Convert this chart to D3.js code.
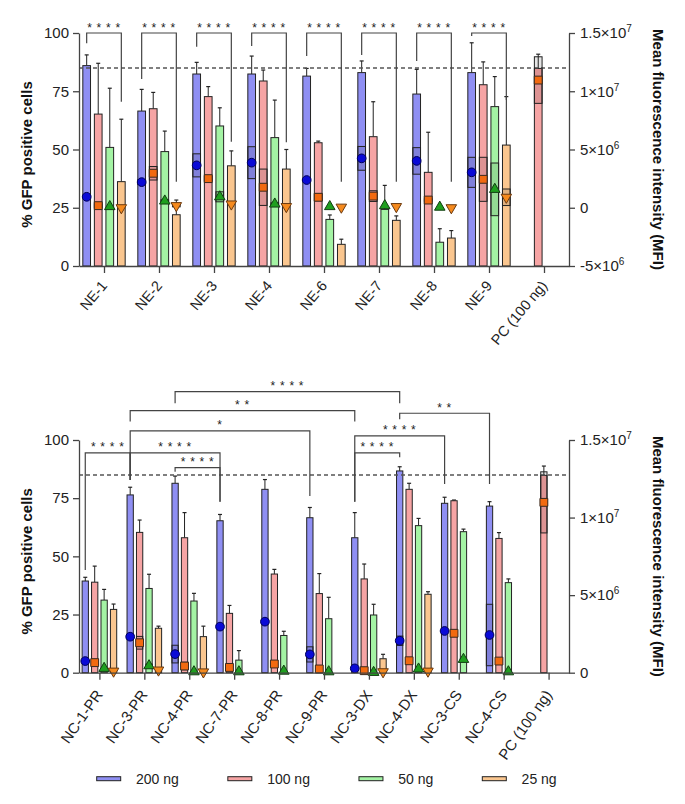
<!DOCTYPE html>
<html><head><meta charset="utf-8">
<script src="https://cdn.jsdelivr.net/npm/d3@7"></script>
<style>body{margin:0;background:#fff}svg{display:block;font-family:Arial,"Liberation Sans",sans-serif}</style>
</head><body><svg id="c" width="685" height="804"></svg>
<script>
// ---------- DATA ----------
const doses = ["200 ng", "100 ng", "50 ng", "25 ng"];

const topCats = ["NE-1","NE-2","NE-3","NE-4","NE-6","NE-7","NE-8","NE-9","PC (100 ng)"];
const topGfp200 = [86, 66.5, 82.4, 82.4, 81.5, 83, 73.8, 83, null];
const topGfp200Sd = [4.6, 9.3, 5, 7.7, 3.3, 5, 10.6, 12.8, null];
const topGfp100 = [65.2, 67.5, 72.7, 79.4, 52.9, 55.5, 40.2, 77.8, 84.8];
const topGfp100Sd = [21.8, 7, 4.3, 4.7, 0.7, 15, 17.2, 9.8, 6.1];
const topGfp50 = [50.9, 49.1, 60.1, 55.1, 20, 24.3, 10.2, 68.4, null];
const topGfp50Sd = [25.4, 8.8, 7.8, 16.1, 1.9, 10.3, 5.8, 12.9, null];
const topGfp25 = [36.2, 22, 43, 41.6, 9.3, 19.6, 12, 51.9, null];
const topGfp25Sd = [26.8, 6.3, 6.4, 8.4, 2.2, 1.9, 3.2, 20.8, null];
// MFI in units of 1e6
const topMfi200 = [0.94, 2.2, 3.64, 3.87, 2.38, 4.24, 4.02, 3.04, null];
const topMfi200Sd = [0.1, 0.2, 0.99, 1.37, 0.1, 1.02, 1.14, 1.29, null];
const topMfi100 = [0.18, 2.96, 2.5, 1.76, 0.9, 1.0, 0.66, 2.44, 10.96];
const topMfi100Sd = [0.15, 0.58, 0.2, 1.56, 0.3, 0.46, 0.1, 1.89, 2.0];
const topMfi50 = [0.1, 0.58, 0.94, 0.32, 0.1, 0.18, 0.05, 1.58, null];
const topMfi50Sd = [0, 0.1, 0.43, 0.1, 0, 0, 0, 2.26, null];
const topMfi25 = [0, 0.18, 0.32, 0.1, 0.05, 0.1, 0, 0.9, null];
const topMfi25Sd = [0, 0.1, 0, 0, 0, 0, 0, 0.71, null];
const topRightTicks = [-5, 0, 5, 10, 15];
const topRightLabels = [["-5","6"],["0",""],["5","6"],["1","7"],["1.5","7"]];
// brackets: [fromCat, fromDose, toCat, toDose, top %, left leg end %, right leg end %, label]
const topBrackets = [
  ["NE-1",0,"NE-1",3,100,95.6,70.5,"* * * *"],
  ["NE-2",0,"NE-2",3,100,80.3,36.2,"* * * *"],
  ["NE-3",0,"NE-3",3,100,94.1,53.3,"* * * *"],
  ["NE-4",0,"NE-4",3,100,94.4,53.1,"* * * *"],
  ["NE-6",0,"NE-6",3,100,90.1,36.2,"* * * *"],
  ["NE-7",0,"NE-7",3,100,90.6,36.2,"* * * *"],
  ["NE-8",0,"NE-8",3,100,88,36.2,"* * * *"],
  ["NE-9",0,"NE-9",3,100,98.7,71.2,"* * * *"]
];

const botCats = ["NC-1-PR","NC-3-PR","NC-4-PR","NC-7-PR","NC-8-PR","NC-9-PR","NC-3-DX","NC-4-DX","NC-3-CS","NC-4-CS","PC (100 ng)"];
const botGfp200 = [39.4, 76.4, 81.4, 65.3, 78.8, 66.6, 58, 86.7, 72.8, 71.6, null];
const botGfp200Sd = [1.6, 3.3, 3.1, 2.7, 4.2, 4.4, 10.8, 1.8, 2.6, 1.9, null];
const botGfp100 = [38.9, 60.3, 58, 25.5, 42.4, 34, 40.3, 78.8, 73.9, 57.7, 84.8];
const botGfp100Sd = [6.9, 5.3, 10.8, 3.4, 2, 8.6, 6.4, 2.6, 0.3, 2.5, 4];
const botGfp50 = [31.2, 36.2, 30.8, 5.4, 16, 23.2, 24.8, 63.2, 60.6, 38.7, null];
const botGfp50Sd = [4.6, 6.1, 3.3, 4.1, 1.8, 9.2, 4.6, 3.1, 1.1, 1.6, null];
const botGfp25 = [27.2, 19.1, 15.5, null, null, null, 6, 33.7, null, null, null];
const botGfp25Sd = [2.3, 0.9, 4.5, null, null, null, 1.9, 1.1, null, null, null];
const botMfi200 = [0.75, 2.32, 1.2, 2.97, 3.29, 1.18, 0.28, 2.06, 2.69, 2.43, null];
const botMfi200Sd = [0.05, 0.15, 0.57, 0.1, 0.15, 0.49, 0.05, 0.3, 0.05, 1.98, null];
const botMfi100 = [0.65, 1.93, 0.43, 0.34, 0.56, 0.24, 0.13, 0.77, 2.54, 0.75, 10.98];
const botMfi100Sd = [0.1, 0.41, 0.24, 0.1, 0.1, 0.05, 0.05, 0.1, 0.1, 0.05, 1.97];
const botMfi50 = [0.28, 0.45, 0.06, 0.06, 0.1, 0.06, 0.02, 0.24, 0.86, 0.06, null];
const botMfi50Sd = [0, 0.1, 0, 0, 0, 0, 0, 0, 0.05, 0, null];
const botMfi25 = [0.1, 0.17, 0.05, null, null, null, 0.06, 0.1, null, null, null];
const botMfi25Sd = [0, 0, 0, null, null, null, 0, 0, null, null, null];
const botRightTicks = [0, 5, 10, 15];
const botRightLabels = [["0",""],["5","6"],["1","7"],["1.5","7"]];
const botBrackets = [
  ["NC-1-PR",0,"NC-3-PR",0,94.5,44.1,82.8,"* * * *"],
  ["NC-3-PR",0,"NC-7-PR",0,94.5,82.8,73.5,"* * * *"],
  ["NC-4-PR",0,"NC-7-PR",0,88.1,86.4,73.5,"* * * *"],
  ["NC-3-PR",0,"NC-9-PR",0,103.9,82.8,75.9,"*"],
  ["NC-3-PR",0,"NC-3-DX",0,112.6,107.9,107.9,"* *"],
  ["NC-4-PR",0,"NC-4-DX",0,120.8,115.8,115.8,"* * * *"],
  ["NC-3-DX",0,"NC-4-DX",0,94.5,73.5,92.6,"* * * *"],
  ["NC-3-DX",0,"NC-3-CS",0,101.8,73.5,81.1,"* * * *"],
  ["NC-4-DX",0,"NC-4-CS",0,111.5,108.9,81.1,"* *"]
];
const refLine = 85;
const yTicks = [0, 25, 50, 75, 100];

// ---------- STYLE ----------
const barFill = ["#8f8ff3", "#f6a4a4", "#a4f3a4", "#fac68f"];
const mkFill = ["#0a0ad6", "#f26a10", "#1f9f1f", "#f58a1e"];
const mkStroke = ["#00005a", "#3a2a20", "#123d12", "#6b3a10"];
const AX = "#444";
const svg = d3.select("#c");

const triDown = {draw(ctx, size){ const s=Math.sqrt(size/(Math.sqrt(3)/4)); const th=s*Math.sqrt(3)/2; ctx.moveTo(-s/2,-th/3); ctx.lineTo(s/2,-th/3); ctx.lineTo(0,2*th/3); ctx.closePath(); }};
const symTypes = [d3.symbolCircle, d3.symbolSquare, d3.symbolTriangle, triDown];
const symSizes = [60, 62, 48, 48];

function panel(o){
  const g = svg.append("g");
  const x = d3.scalePoint().domain(o.cats).range([79,569]).padding(0.4545);
  const step = x.step();
  const bStep = step*0.21, bW = step*0.14;
  const yL = d3.scaleLinear().domain([0,100]).range([o.yb,o.yt]);
  const yR = d3.scaleLinear().domain(o.mfiDom).range([o.yb,o.yt]);
  const bx = (c,k)=> x(c) + (k-1.5)*bStep;

  // bars
  o.gfp.forEach((arr,k)=>{
    arr.forEach((v,i)=>{
      if(v==null) return;
      const c=o.cats[i], cx=bx(c,k);
      const sd=o.gfpSd[k][i];
      if(sd){
        g.append("line").attr("x1",cx).attr("x2",cx).attr("y1",yL(v)).attr("y2",yL(v+sd)).attr("stroke","#222").attr("stroke-width",1);
        g.append("line").attr("x1",cx-2).attr("x2",cx+2).attr("y1",yL(v+sd)).attr("y2",yL(v+sd)).attr("stroke","#222").attr("stroke-width",1.2);
      }
      g.append("rect").attr("x",cx-bW/2).attr("y",yL(v)).attr("width",bW).attr("height",yL(0)-yL(v))
        .attr("fill",barFill[k]).attr("stroke","#222").attr("stroke-width",1);
    });
  });
  // dashed reference
  g.append("line").attr("x1",79).attr("x2",569).attr("y1",yL(refLine)).attr("y2",yL(refLine))
    .attr("stroke","#555").attr("stroke-width",1.5).attr("stroke-dasharray","4,3");
  // markers
  o.mfi.forEach((arr,k)=>{
    arr.forEach((v,i)=>{
      if(v==null) return;
      const c=o.cats[i], cx=bx(c,k);
      const sd=o.mfiSd[k][i];
      if(sd){
        const y1=yR(v+sd), y2=yR(v-sd);
        g.append("rect").attr("x",cx-bW/2).attr("y",y1).attr("width",bW).attr("height",y2-y1)
          .attr("fill","rgba(0,0,0,0.1)").attr("stroke","#222").attr("stroke-width",1);
      }
      g.append("path").attr("d",d3.symbol().type(symTypes[k]).size(symSizes[k])())
        .attr("transform",`translate(${cx},${yR(v)})`).attr("fill",mkFill[k]).attr("stroke",mkStroke[k]).attr("stroke-width",1);
    });
  });
  // axes
  const la = g.append("g").attr("transform","translate(79,0)")
    .call(d3.axisLeft(yL).tickValues(yTicks).tickSize(6).tickSizeOuter(0).tickPadding(4));
  const ra = g.append("g").attr("transform","translate(569,0)")
    .call(d3.axisRight(yR).tickValues(o.rTicks).tickSize(6).tickSizeOuter(0).tickPadding(5).tickFormat(""));
  ra.selectAll(".tick").each(function(d,i){
    const lab=o.rLabels[i];
    const t=d3.select(this).append("text").attr("x",11).attr("dy","0.32em").attr("fill","#222").attr("text-anchor","start");
    if(lab[1]){ t.append("tspan").text(lab[0]+"×10"); t.append("tspan").attr("dy",-6).attr("font-size",10).text(lab[1]); }
    else t.text(lab[0]);
  });
  const xa = g.append("g").attr("transform",`translate(0,${o.yb})`)
    .call(d3.axisBottom(x).tickSize(7).tickSizeOuter(0).tickFormat(""));
  [la,ra,xa].forEach(a=>{a.selectAll("path,line").attr("stroke",AX).attr("stroke-width",1.3);
    a.selectAll("text").attr("font-size",15).attr("fill","#222").attr("font-family","Arial, 'Liberation Sans', sans-serif");});
  // x labels
  o.cats.forEach(c=>{
    g.append("text").attr("text-anchor","end").attr("font-size",o.labSize).attr("fill","#222")
      .attr("transform",`translate(${x(c)+4},${o.yb+o.labDy}) rotate(${o.labRot})`).text(c);
  });
  // titles
  g.append("text").attr("transform",`translate(32,${(o.yt+o.yb)/2+5}) rotate(-90)`).attr("text-anchor","middle")
    .attr("font-weight","bold").attr("font-size",15).attr("fill","#111").text("% GFP positive cells");
  g.append("text").attr("transform",`translate(653,${(o.yt+o.yb)/2}) rotate(90)`).attr("text-anchor","middle")
    .attr("font-weight","bold").attr("font-size",15).attr("fill","#111").text("Mean fluorescence intensity (MFI)");
  // brackets
  o.brackets.forEach(b=>{
    const x1=bx(b[0],b[1]), x2=bx(b[2],b[3]);
    g.append("path").attr("d",`M${x1},${yL(b[5])}V${yL(b[4])}H${x2}V${yL(b[6])}`)
      .attr("fill","none").attr("stroke",AX).attr("stroke-width",1.2);
    g.append("text").attr("x",(x1+x2)/2).attr("y",yL(b[4])-1.5).attr("text-anchor","middle")
      .attr("font-size",12).attr("letter-spacing","0.7px").attr("fill","#222").text(b[7]);
  });
}

panel({cats:topCats, yt:33, yb:266, mfiDom:[-5,15], labSize:14.5, labRot:-50, labDy:20,
  gfp:[topGfp200,topGfp100,topGfp50,topGfp25], gfpSd:[topGfp200Sd,topGfp100Sd,topGfp50Sd,topGfp25Sd],
  mfi:[topMfi200,topMfi100,topMfi50,topMfi25], mfiSd:[topMfi200Sd,topMfi100Sd,topMfi50Sd,topMfi25Sd],
  rTicks:topRightTicks, rLabels:topRightLabels, brackets:topBrackets});
panel({cats:botCats, yt:440, yb:672.7, mfiDom:[0,15], labSize:15, labRot:-55, labDy:22,
  gfp:[botGfp200,botGfp100,botGfp50,botGfp25], gfpSd:[botGfp200Sd,botGfp100Sd,botGfp50Sd,botGfp25Sd],
  mfi:[botMfi200,botMfi100,botMfi50,botMfi25], mfiSd:[botMfi200Sd,botMfi100Sd,botMfi50Sd,botMfi25Sd],
  rTicks:botRightTicks, rLabels:botRightLabels, brackets:botBrackets});

// legend
const lg = svg.append("g");
let lx = 96.7;
doses.forEach((d,k)=>{
  lg.append("rect").attr("x",lx).attr("y",776.7).attr("width",24).attr("height",4).attr("fill",barFill[k]).attr("stroke","#222").attr("stroke-width",1);
  const t = lg.append("text").attr("x",lx+39.3).attr("y",784).attr("font-size",14).attr("fill","#222").text(d);
  lx += 39.3 + t.node().getComputedTextLength() + 49;
});
</script></body></html>
